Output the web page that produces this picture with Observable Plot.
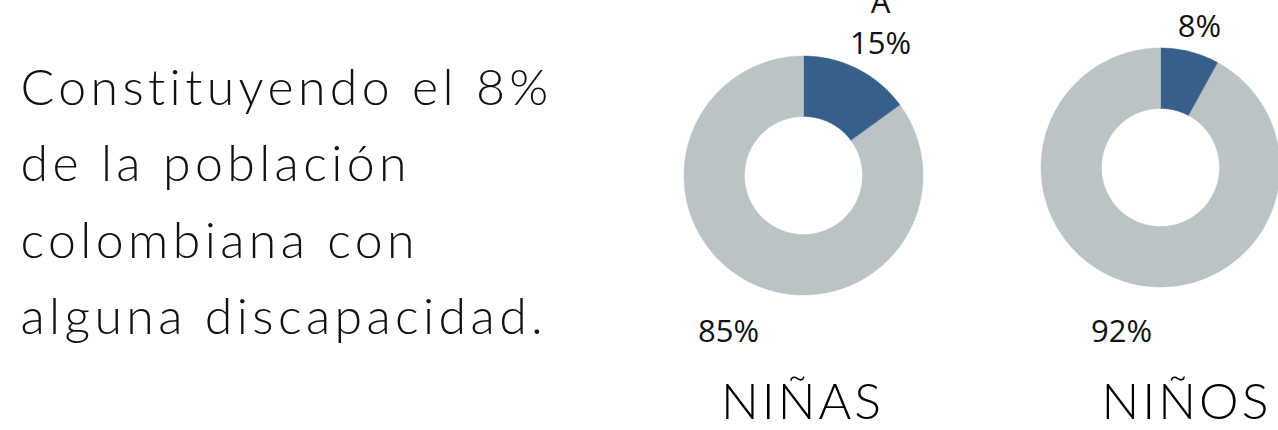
<!DOCTYPE html>
<html><head><meta charset="utf-8">
<script src="https://cdn.jsdelivr.net/npm/d3@7"></script>
<script src="https://cdn.jsdelivr.net/npm/@observablehq/plot@0.6"></script>
<style>
html,body{margin:0;padding:0;background:#fff;}
.intro text{letter-spacing:4.4px;}
.big text{letter-spacing:3px;}
</style>
</head><body>
<div id="chart"></div>
<script>
// ---- data ----
const groups = ["NIÑAS", "NIÑOS"];
const withDisability = [15, 8];
const withoutDisability = [85, 92];
const introLines = ["Constituyendo el 8%", "de la población", "colombiana con", "alguna discapacidad."];
const topNote = ["A", ""];

// ---- layout ----
const W = 1278, H = 430;
const centers = [[803, 175], [1160, 167]];
const rIn = 59, rOut = 119.5;
const blue = "#366089", gray = "#BAC3C6";
const bigPctPos = [[880, 53], [1199, 36]];
const smallPctPos = [[728, 341], [1121, 341]];
const namePos = [[802, 418], [1186, 418]];

// build ring slice polygons
const slices = [];
groups.forEach((g, gi) => {
  const vals = [withDisability[gi], withoutDisability[gi]];
  const total = vals[0] + vals[1];
  let start = 0;
  vals.forEach((v, si) => {
    const a0 = start / total * 2 * Math.PI, a1 = (start + v) / total * 2 * Math.PI;
    start += v;
    const n = Math.max(8, Math.ceil((a1 - a0) / 0.01));
    const [cx, cy] = centers[gi];
    const key = g + "-" + si;
    const pts = [];
    for (let k = 0; k <= n; k++) { const a = a0 + (a1 - a0) * k / n; pts.push({key, fill: si === 0 ? blue : gray, x: cx + rOut * Math.sin(a), y: cy - rOut * Math.cos(a)}); }
    for (let k = n; k >= 0; k--) { const a = a0 + (a1 - a0) * k / n; pts.push({key, fill: si === 0 ? blue : gray, x: cx + rIn * Math.sin(a), y: cy - rIn * Math.cos(a)}); }
    slices.push(...pts);
  });
});

const chart = Plot.plot({
  width: W, height: H,
  margin: 0,
  x: {domain: [0, W], range: [0, W], axis: null},
  y: {domain: [0, H], range: [0, H], axis: null},
  style: {background: "#fff", color: "#000"},
  marks: [
    Plot.line(slices, {x: "x", y: "y", z: "key", fill: "fill", stroke: "fill", strokeWidth: 0.5, curve: "linear-closed"}),
    Plot.text(introLines, {x: () => 20, y: (d, i) => 104 + i * 76.5, text: d => d, textAnchor: "start", lineAnchor: "bottom",
      fontFamily: "Lato", fontWeight: 300, fontSize: 50, fill: "#111", className: "intro"}),
    Plot.text(withDisability, {x: (d, i) => bigPctPos[i][0], y: (d, i) => bigPctPos[i][1], text: d => d + "%", lineAnchor: "bottom",
      fontFamily: "Open Sans", fontSize: 31, fill: "#111"}),
    Plot.text(topNote, {x: (d, i) => bigPctPos[i][0], y: (d, i) => bigPctPos[i][1] - 41, text: d => d, lineAnchor: "bottom",
      fontFamily: "Open Sans", fontSize: 31, fill: "#111"}),
    Plot.text(withoutDisability, {x: (d, i) => smallPctPos[i][0], y: (d, i) => smallPctPos[i][1], text: d => d + "%", lineAnchor: "bottom",
      fontFamily: "Open Sans", fontSize: 31, fill: "#111"}),
    Plot.text(groups, {x: (d, i) => namePos[i][0], y: (d, i) => namePos[i][1], text: d => d, lineAnchor: "bottom",
      fontFamily: "Lato", fontWeight: 300, fontSize: 50, fill: "#000", className: "big"})
  ]
});
document.getElementById("chart").appendChild(chart);
</script>
</body></html>
